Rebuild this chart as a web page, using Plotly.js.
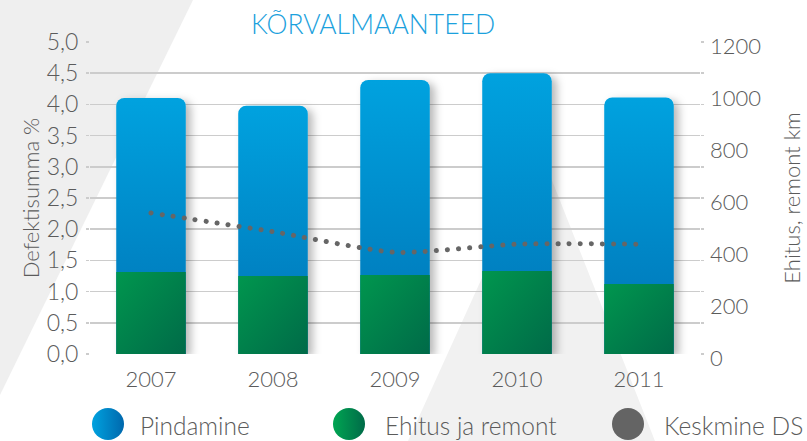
<!DOCTYPE html>
<html>
<head>
<meta charset="utf-8">
<script src="https://cdn.plot.ly/plotly-3.0.1.min.js"></script>
<style>html,body{margin:0;padding:0;background:#fff;}</style>
</head>
<body>
<div id="chart" style="width:807px;height:441px;"></div>
<script>
// ---- data ----
const years = ['2007', '2008', '2009', '2010', '2011'];
const pindamine = [670, 655, 750, 761, 718];        // km (top part of the stack)
const ehitusJaRemont = [315, 300, 304, 319, 269];    // km (bottom part)
const keskmineDS = [2.26, 1.96, 1.63, 1.76, 1.76];   // %
const leftTicks = [0, 0.5, 1, 1.5, 2, 2.5, 3, 3.5, 4, 4.5, 5];
const rightTicks = [0, 200, 400, 600, 800, 1000, 1200];
const seriesNames = ['Pindamine', 'Ehitus ja remont', 'Keskmine DS'];

// stacked totals (top of the blue bar)
const totals = pindamine.map((v, i) => v + ehitusJaRemont[i]);

const L = 90, T = 42, W = 610, H = 312;
const px = x => (x - L) / W;
const py = y => (T + H - y) / H;

const FONT = 'Lato, "Open Sans", sans-serif';
const GREY = '#5b5b5b';
const WT = 300;

const traces = [
  {type: 'bar', x: years, y: totals, name: seriesNames[0], yaxis: 'y', xaxis: 'x',
   marker: {color: '#0088c9', cornerradius: 8}, width: 0.57, showlegend: false, hoverinfo: 'skip'},
  {type: 'bar', x: years, y: ehitusJaRemont, name: seriesNames[1], yaxis: 'y', xaxis: 'x',
   marker: {color: '#00804e', cornerradius: 8}, width: 0.57, showlegend: false, hoverinfo: 'skip'},
  {type: 'scatter', mode: 'lines', x: years, y: keskmineDS, name: seriesNames[2], yaxis: 'y2', xaxis: 'x',
   line: {color: '#666666', width: 4, dash: 'dot', shape: 'spline', smoothing: 0.6}, showlegend: false, hoverinfo: 'skip'}
];

const shapes = [
  {type: 'path', xref: 'paper', yref: 'paper', layer: 'below', line: {width: 0}, fillcolor: '#efefef',
   path: `M ${px(0)} ${py(0)} L ${px(193)} ${py(0)} L ${px(0)} ${py(395)} Z`},
  {type: 'path', xref: 'paper', yref: 'paper', layer: 'below', line: {width: 0}, fillcolor: '#f1f1f1',
   path: `M ${px(540)} ${py(150)} L ${px(655)} ${py(441)} L ${px(408)} ${py(441)} Z`}
];
const legendX = [108, 349, 628];
const legendCols = ['#0a86c8', '#00844f', '#646464'];
legendX.forEach((x, i) => {
  shapes.push({type: 'circle', xref: 'paper', yref: 'paper', xsizemode: 'pixel', ysizemode: 'pixel',
    xanchor: px(x), yanchor: py(424), x0: -16, x1: 16, y0: -16, y1: 16,
    fillcolor: legendCols[i], line: {width: 0}});
});
const legendTextX = [138, 383, 662];
const annotations = seriesNames.map((n, i) => ({
  text: n, xref: 'paper', yref: 'paper', x: px(legendTextX[i]), y: py(425),
  xanchor: 'left', yanchor: 'middle', showarrow: false, font: {family: FONT, size: 24.5, color: GREY, weight: WT}
}));

const layout = {
  width: 807, height: 441,
  margin: {l: L, r: 807 - L - W, t: T, b: 441 - T - H, pad: 0},
  paper_bgcolor: '#ffffff', plot_bgcolor: 'rgba(0,0,0,0)',
  separators: ', ',
  barmode: 'overlay',
  showlegend: false,
  font: {family: FONT, color: GREY, weight: WT},
  title: {text: 'KÕRVALMAANTEED', x: 373 / 807, xanchor: 'center', xref: 'container',
          y: 1 - 25 / 441, yanchor: 'middle', yref: 'container',
          font: {family: FONT, size: 26.5, color: '#1ba1dd', weight: WT}},
  xaxis: {type: 'category', showgrid: false, zeroline: false, showline: false, ticks: '',
          tickfont: {size: 22, color: GREY, weight: WT}, ticklabelstandoff: 10},
  yaxis: {side: 'right', range: [0, 1200], tickvals: rightTicks, showgrid: false, zeroline: false,
          showline: false, ticks: '', tickfont: {size: 22, color: GREY, weight: WT}, ticklabelstandoff: 9,
          ticklabelshift: 4,
          title: {text: 'Ehitus, remont km', font: {size: 22, color: GREY, weight: WT}, standoff: 24}},
  yaxis2: {overlaying: 'y', side: 'left', range: [0, 5], tickvals: leftTicks, tickformat: '.1f',
           showgrid: true, gridcolor: '#cccccc', gridwidth: 1.5, zeroline: false, showline: false,
           ticks: 'outside', ticklen: 3, tickcolor: '#cccccc', tickwidth: 1.5, mirror: 'ticks',
           tickfont: {size: 23, color: GREY, weight: WT}, ticklabelstandoff: 3,
           title: {text: 'Defektisumma %', font: {size: 22, color: GREY, weight: WT}, standoff: 0}},
  shapes: shapes,
  annotations: annotations
};

Plotly.newPlot('chart', traces, layout, {staticPlot: true, displayModeBar: false}).then(gd => {
  const NS = 'http://www.w3.org/2000/svg';
  const svg = gd.querySelector('svg.main-svg');
  let defs = svg.querySelector('defs');
  if (!defs) { defs = document.createElementNS(NS, 'defs'); svg.insertBefore(defs, svg.firstChild); }
  const mkGrad = (id, x2, y2, stops) => {
    const g = document.createElementNS(NS, 'linearGradient');
    g.setAttribute('id', id); g.setAttribute('x1', '0'); g.setAttribute('y1', '0');
    g.setAttribute('x2', x2); g.setAttribute('y2', y2);
    stops.forEach(([o, c]) => {
      const s = document.createElementNS(NS, 'stop');
      s.setAttribute('offset', o); s.setAttribute('stop-color', c); g.appendChild(s);
    });
    defs.appendChild(g);
  };
  mkGrad('gBlue', '0', '1', [['0', '#00a2df'], ['1', '#0073b5']]);
  mkGrad('gGreen', '1', '1', [['0', '#00964e'], ['1', '#006a48']]);
  mkGrad('gBlueH', '1', '0', [['0', '#00a2df'], ['1', '#0068ad']]);
  mkGrad('gGreenH', '1', '0', [['0', '#00a552'], ['1', '#006b48']]);
  const f = document.createElementNS(NS, 'filter');
  f.setAttribute('id', 'barShadow'); f.setAttribute('x', '-20%'); f.setAttribute('y', '-20%');
  f.setAttribute('width', '160%'); f.setAttribute('height', '140%');
  const ds = document.createElementNS(NS, 'feDropShadow');
  ds.setAttribute('dx', '5'); ds.setAttribute('dy', '3'); ds.setAttribute('stdDeviation', '4');
  ds.setAttribute('flood-color', '#000'); ds.setAttribute('flood-opacity', '0.28');
  f.appendChild(ds); defs.appendChild(f);

  const barTraces = gd.querySelectorAll('.barlayer .trace');
  if (barTraces[0]) {
    barTraces[0].querySelectorAll('path').forEach(p => { p.style.fill = 'url(#gBlue)'; p.style.filter = 'url(#barShadow)'; });
  }
  if (barTraces[1]) {
    barTraces[1].querySelectorAll('path').forEach(p => { p.style.fill = 'url(#gGreen)'; });
  }
  gd.querySelectorAll('.scatterlayer .js-line').forEach(p => {
    p.style.strokeDasharray = '0.1 11'; p.style.strokeLinecap = 'round'; p.style.strokeWidth = '5px';
  });
  const circles = gd.querySelectorAll('.layer-above .shapelayer path, .shapelayer path');
  const circlePaths = Array.from(circles).filter(p => (p.getAttribute('d') || '').includes('A'));
  const grads = ['url(#gBlueH)', 'url(#gGreenH)', null];
  circlePaths.forEach((p, i) => { if (grads[i]) p.style.fill = grads[i]; });
});
</script>
</body>
</html>
